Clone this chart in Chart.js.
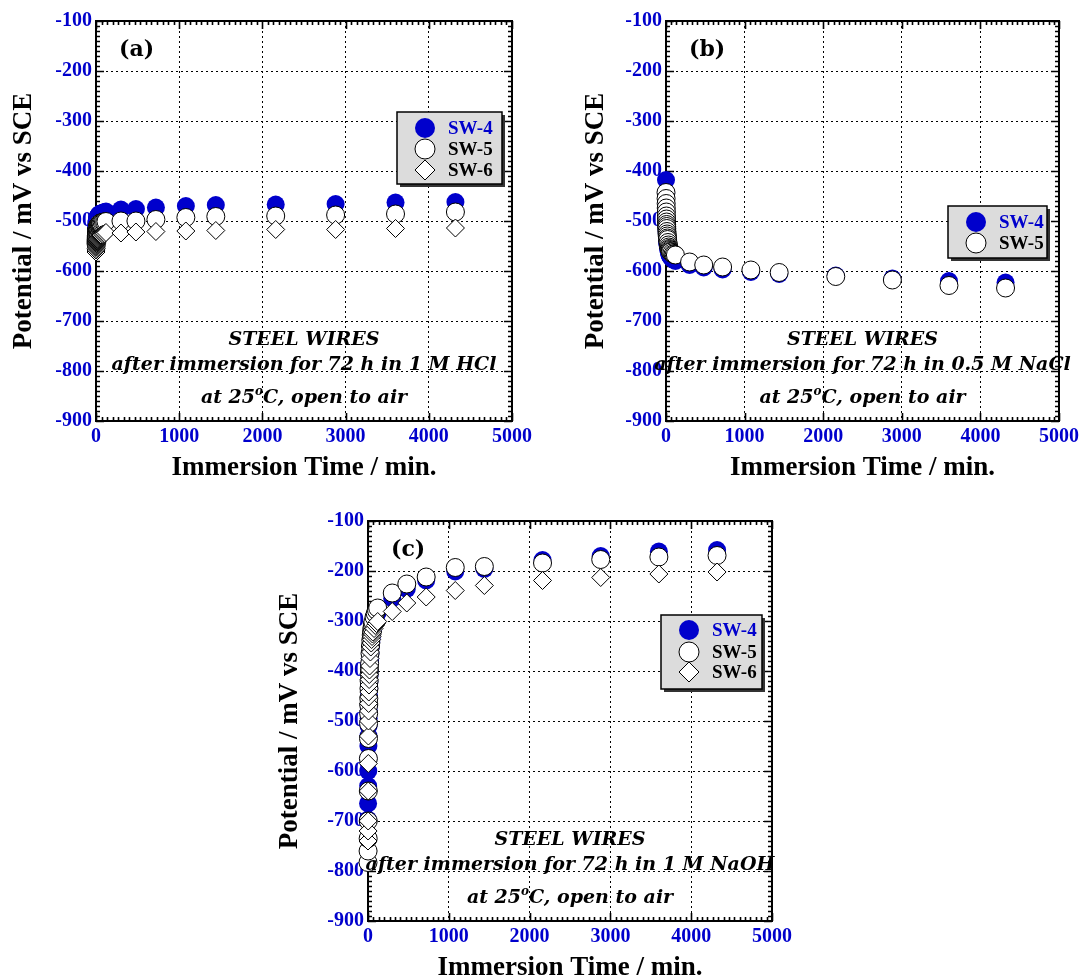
<!DOCTYPE html>
<html>
<head>
<meta charset="utf-8">
<title>Steel wires open-circuit potential</title>
<script src="https://cdn.jsdelivr.net/npm/chart.js@4.4.1/dist/chart.umd.min.js"></script>
<style>
html, body { margin: 0; padding: 0; background: #fff; overflow: hidden; width: 1083px; height: 979px; }
canvas { position: absolute; display: block; }
</style>
</head>
<body>
<canvas id="chartA" width="541" height="490" style="left:0px;top:0px;width:541px;height:490px"></canvas>
<canvas id="chartB" width="542" height="490" style="left:541px;top:0px;width:542px;height:490px"></canvas>
<canvas id="chartC" width="540" height="500" style="left:270px;top:490px;width:540px;height:500px"></canvas>
<script>
// ---------------- DATA ----------------
const timeMin = [0, 1, 2, 3, 4, 5, 6, 7, 8, 9, 10, 12, 14, 16, 18, 20, 25, 30, 35, 40, 45, 50, 55, 60, 75, 90, 105, 120,
                 300, 480, 720, 1080, 1440, 2160, 2880, 3600, 4320];

// (a) 1 M HCl
const hclSW4 = [-530, -525, -520, -516, -512, -509, -506, -504, -502, -500, -499, -497, -495, -494, -493, -492, -490, -489, -488, -487,
                -486, -486, -485, -485, -484, -483, -482, -481, -477, -476, -473, -470, -468, -467, -466, -463, -462];
const hclSW5 = [-545, -540, -536, -532, -529, -526, -524, -522, -520, -519, -518, -516, -514, -513, -512, -511, -509, -508, -507, -506,
                -505, -505, -504, -504, -503, -502, -502, -501, -500, -500, -497, -493, -491, -490, -488, -486, -482];
const hclSW6 = [-562, -558, -555, -552, -550, -548, -546, -545, -543, -542, -541, -540, -539, -538, -537, -536, -535, -534, -533, -532,
                -531, -530, -529, -528, -527, -526, -525, -523, -524, -522, -521, -520, -519, -517, -517, -515, -514];

// (b) 0.5 M NaCl
const naclSW4 = [-418, -445, -465, -480, -492, -500, -507, -513, -518, -522, -526, -532, -537, -541, -545, -548, -554, -558, -562, -565,
                 -567, -569, -571, -572, -575, -577, -578, -580, -588, -593, -597, -602, -606, -609, -615, -620, -623];
const naclSW5 = [-443, -455, -465, -474, -482, -490, -496, -502, -507, -511, -515, -521, -526, -530, -534, -537, -543, -548, -552, -555,
                 -557, -559, -561, -562, -564, -566, -567, -568, -582, -588, -592, -598, -603, -611, -618, -629, -634];

// (c) 1 M NaOH
const naohSW4 = [-697, -665, -630, -600, -575, -550, -530, -510, -495, -480, -468, -450, -435, -422, -410, -400, -380, -365, -352, -342,
                 -333, -326, -320, -314, -302, -294, -288, -283, -255, -236, -219, -201, -196, -178, -170, -161, -158];
const naohSW5 = [-783, -760, -735, -700, -640, -575, -535, -505, -485, -468, -455, -435, -420, -405, -395, -385, -365, -350, -338, -328,
                 -320, -313, -307, -302, -292, -285, -279, -274, -244, -226, -212, -193, -191, -184, -177, -172, -169];
const naohSW6 = [-740, -720, -700, -640, -585, -530, -500, -480, -465, -452, -442, -428, -417, -407, -398, -390, -375, -362, -352, -344,
                 -337, -331, -326, -322, -315, -309, -305, -301, -281, -264, -252, -239, -229, -219, -213, -206, -202];

const seriesNames = ['SW-4', 'SW-5', 'SW-6'];
const panelLabels = ['(a)', '(b)', '(c)'];
const mediumNames = ['1 M HCl', '0.5 M NaCl', '1 M NaOH'];
const xAxisTitle = 'Immersion Time / min.';
const yAxisTitle = 'Potential / mV vs SCE';

// ---------------- STYLE ----------------
const BLUE = '#0000cc';
const SERIF = '"Liberation Serif", "Times New Roman", serif';
const SERIF2 = '"DejaVu Serif", serif';

function pts(arr) { return timeMin.map((t, i) => ({ x: t, y: arr[i] })); }

const seriesStyle = [
  { pointStyle: 'circle', pointRadius: 9, backgroundColor: BLUE, borderColor: BLUE, pointBorderWidth: 0, order: 3, labelColor: BLUE },
  { pointStyle: 'circle', pointRadius: 9, backgroundColor: '#ffffff', borderColor: '#000000', pointBorderWidth: 1, order: 2, labelColor: '#000' },
  { pointStyle: 'rectRot', pointRadius: 9, backgroundColor: '#ffffff', borderColor: '#000000', pointBorderWidth: 1, order: 1, labelColor: '#000' }
];

function makeDatasets(arrays) {
  return arrays.map((arr, i) => {
    const s = seriesStyle[i];
    return {
      label: seriesNames[i],
      data: pts(arr),
      showLine: false,
      pointStyle: s.pointStyle,
      pointRadius: s.pointRadius,
      pointHoverRadius: s.pointRadius,
      pointBackgroundColor: s.backgroundColor,
      pointBorderColor: s.borderColor,
      pointBorderWidth: s.pointBorderWidth,
      backgroundColor: s.backgroundColor,
      borderColor: s.borderColor,
      order: s.order,
      clip: false,
      labelColor: s.labelColor
    };
  });
}

// decoration plugin: frame, inward ticks, panel label, annotation, legend
const deco = {
  id: 'deco',
  beforeDatasetsDraw(chart, args, o) {
    const { ctx, chartArea: a } = chart;
    const xs = chart.scales.x, ys = chart.scales.y;
    ctx.save();
    ctx.strokeStyle = '#000';
    ctx.lineWidth = 1.6;
    ctx.beginPath();
    const xSub = 15;
    for (let i = 0; i <= 5 * xSub; i++) {
      const v = i * 1000 / xSub;
      const px = Math.round(xs.getPixelForValue(v)) + 0.5;
      const L = (i % xSub === 0) ? 8 : 4;
      ctx.moveTo(px, a.bottom); ctx.lineTo(px, a.bottom - L);
      ctx.moveTo(px, a.top); ctx.lineTo(px, a.top + L);
    }
    for (let i = 0; i <= 80; i++) {
      const v = -900 + i * 10;
      const py = Math.round(ys.getPixelForValue(v)) + 0.5;
      const L = (i % 10 === 0) ? 8 : 4;
      ctx.moveTo(a.left, py); ctx.lineTo(a.left + L, py);
      ctx.moveTo(a.right, py); ctx.lineTo(a.right - L, py);
    }
    ctx.stroke();
    ctx.lineWidth = 2;
    ctx.strokeRect(a.left, a.top, a.right - a.left, a.bottom - a.top);
    ctx.restore();
  },
  afterDatasetsDraw(chart, args, o) {
    const { ctx, chartArea: a } = chart;
    const cx = (a.left + a.right) / 2;
    ctx.save();
    // panel label
    ctx.fillStyle = '#000';
    ctx.font = 'bold 22px ' + SERIF2;
    ctx.textAlign = 'left';
    ctx.textBaseline = 'alphabetic';
    ctx.fillText(o.panel, a.left + 23, a.top + 35);

    // annotation
    const f = 'italic bold 19px ' + SERIF2;
    const fs = 'italic bold 12px ' + SERIF2;
    ctx.font = f;
    ctx.textAlign = 'center';
    ctx.fillText('STEEL WIRES', cx, a.top + 324);
    ctx.fillText('after immersion for 72 h in ' + o.medium, cx, a.top + 349);
    const p1 = 'at 25', p2 = 'o', p3 = 'C, open to air';
    ctx.font = f; const w1 = ctx.measureText(p1).width; const w3 = ctx.measureText(p3).width;
    ctx.font = fs; const w2 = ctx.measureText(p2).width;
    let sx = cx - (w1 + w2 + w3) / 2;
    const by = a.top + 382;
    ctx.textAlign = 'left';
    ctx.font = f; ctx.fillText(p1, sx, by); sx += w1;
    ctx.font = fs; ctx.fillText(p2, sx, by - 8); sx += w2;
    ctx.font = f; ctx.fillText(p3, sx, by);

    // legend
    const L = o.legend;
    const bx = a.right - L.dx, byy = a.top + L.dy;
    ctx.fillStyle = '#333';
    ctx.fillRect(bx + 3, byy + 3, L.w, L.h);
    ctx.fillStyle = '#dcdcdc';
    ctx.fillRect(bx, byy, L.w, L.h);
    ctx.strokeStyle = '#000';
    ctx.lineWidth = 1.5;
    ctx.strokeRect(bx, byy, L.w, L.h);
    ctx.font = 'bold 19px ' + SERIF;
    ctx.textBaseline = 'middle';
    chart.data.datasets.forEach((ds, i) => {
      const ry = byy + L.rows[i];
      ctx.fillStyle = ds.pointBackgroundColor;
      ctx.strokeStyle = ds.pointBorderColor;
      ctx.lineWidth = ds.pointBorderWidth || 0;
      Chart.helpers.drawPoint(ctx, { pointStyle: ds.pointStyle, rotation: 0, radius: 10, borderWidth: ds.pointBorderWidth }, bx + 28, ry);
      ctx.fillStyle = ds.labelColor;
      ctx.textAlign = 'left';
      ctx.fillText(ds.label, bx + 51, ry + 1);
    });
    ctx.restore();
  }
};

function makeChart(id, arrays, panelIdx, layout, legend) {
  const tickFont = { family: SERIF, size: 20, weight: 'bold' };
  const titleFont = { family: SERIF, size: 27, weight: 'bold' };
  return new Chart(document.getElementById(id), {
    type: 'scatter',
    data: { datasets: makeDatasets(arrays) },
    plugins: [deco],
    options: {
      responsive: false,
      animation: false,
      devicePixelRatio: 1,
      layout: { padding: layout.padding },
      events: [],
      plugins: {
        legend: { display: false },
        tooltip: { enabled: false },
        title: { display: false },
        deco: { panel: panelLabels[panelIdx], medium: mediumNames[panelIdx], legend: legend }
      },
      scales: {
        x: {
          type: 'linear', min: 0, max: 5000,
          afterFit: (s) => { s.height = layout.xh; },
          ticks: { stepSize: 1000, color: BLUE, font: tickFont, padding: 4, maxRotation: 0, callback: (v) => String(v) },
          grid: { color: '#000', lineWidth: 1, drawTicks: false },
          border: { display: false, dash: [2, 3] },
          title: { display: true, text: xAxisTitle, color: '#000', font: titleFont, padding: { top: 0, bottom: layout.xtp } }
        },
        y: {
          type: 'linear', min: -900, max: -100,
          afterFit: (s) => { s.width = layout.yw; },
          ticks: { stepSize: 100, color: BLUE, font: tickFont, padding: 4, callback: (v) => String(v) },
          grid: { color: '#000', lineWidth: 1, drawTicks: false },
          border: { display: false, dash: [2, 3] },
          title: { display: true, text: yAxisTitle, color: '#000', font: titleFont, padding: { top: layout.ytp, bottom: 0 } }
        }
      }
    }
  });
}

makeChart('chartA', [hclSW4, hclSW5, hclSW6], 0,
  { padding: { left: 0, top: 21, right: 29, bottom: 0 }, xh: 69, yw: 96, xtp: 6, ytp: 8 },
  { dx: 115, dy: 91, w: 105, h: 72, rows: [16, 37, 58] });

makeChart('chartB', [naclSW4, naclSW5], 1,
  { padding: { left: 31, top: 21, right: 22, bottom: 0 }, xh: 69, yw: 94, xtp: 6, ytp: 8 },
  { dx: 111, dy: 185, w: 99, h: 52, rows: [16, 37] });

makeChart('chartC', [naohSW4, naohSW5, naohSW6], 2,
  { padding: { left: 0, top: 31, right: 38, bottom: 0 }, xh: 69, yw: 98, xtp: 6, ytp: 4 },
  { dx: 111, dy: 94, w: 101, h: 74, rows: [15, 37, 57] });
</script>
</body>
</html>
